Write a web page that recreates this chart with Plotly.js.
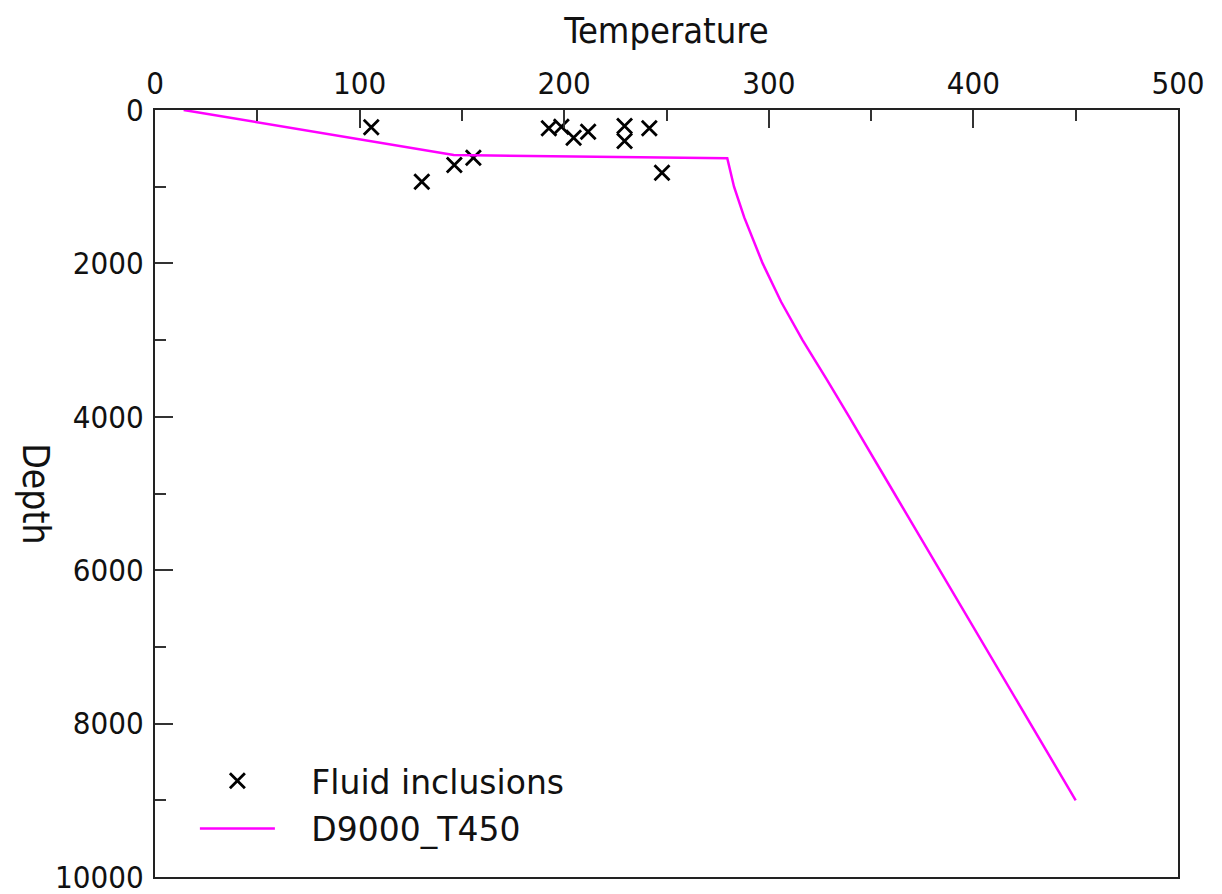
<!DOCTYPE html>
<html>
<head>
<meta charset="utf-8">
<script src="https://cdn.plot.ly/plotly-3.0.1.min.js"></script>
<style>html,body{margin:0;padding:0;background:#fff;}#chart{width:1222px;height:894px;}</style>
</head>
<body>
<div id="chart"></div>
<script>
// Fluid inclusion measurements (temperature, depth)
var fluidTemp  = [105.7, 130.4, 146.3, 155.6, 192.5, 198.6, 204.6, 211.7, 229.5, 229.5, 241.6, 247.8];
var fluidDepth = [226, 935, 717, 622, 239, 217, 361, 283, 209, 404, 239, 817];

// Geotherm model D9000_T450
var modelTemp  = [14, 146, 279.7, 283.0, 288.0, 292.5, 297.0, 306.0, 310.3, 316.5, 328.0, 339.3, 361.4, 383.6, 405.7, 427.9, 450];
var modelDepth = [0, 588, 630, 1000, 1400, 1700, 2000, 2500, 2700, 3000, 3500, 4000, 5000, 6000, 7000, 8000, 9000];

// Axis ticks
var xTicks = [0, 100, 200, 300, 400, 500];
var yTicks = [0, 2000, 4000, 6000, 8000, 10000];

var narrow = 'DejaVu Sans Condensed, DejaVu Sans, sans-serif';
var tickFont = {family: narrow, size: 31, color: '#111'};

var traces = [
  {
    x: fluidTemp, y: fluidDepth, type: 'scatter', mode: 'markers',
    name: '\u00a0\u00a0\u00a0Fluid inclusions', legendgroup: 'a',
    marker: {symbol: 'x-thin', size: 15, color: '#000', line: {width: 2.8, color: '#000'}}
  },
  {
    x: modelTemp, y: modelDepth, type: 'scatter', mode: 'lines',
    name: '\u00a0\u00a0\u00a0D9000_T450', legendgroup: 'b',
    line: {color: '#ff00ff', width: 2.5}
  }
];

var layout = {
  width: 1222, height: 894,
  margin: {l: 155, r: 44, t: 110, b: 17},
  paper_bgcolor: '#fff', plot_bgcolor: '#fff',
  showlegend: true,
  legend: {
    x: 0.039, y: 0.162, xanchor: 'left', yanchor: 'top',
    bgcolor: 'rgba(0,0,0,0)',
    font: {family: 'DejaVu Sans, sans-serif', size: 33, color: '#111'},
    traceorder: 'grouped', tracegroupgap: 2, itemwidth: 75
  },
  xaxis: {
    side: 'top', range: [0, 500], tickvals: xTicks, ticktext: xTicks.map(String),
    ticks: 'inside', ticklen: 18, tickwidth: 2, tickcolor: '#333',
    minor: {dtick: 50, ticks: 'inside', ticklen: 11, tickwidth: 2, tickcolor: '#333'},
    showline: true, linewidth: 2, linecolor: '#222', mirror: true,
    showgrid: false, zeroline: false,
    tickfont: tickFont, ticklabelstandoff: 2, ticklabeloverflow: 'allow',
    title: {text: 'Temperature', font: {family: 'DejaVu Sans Condensed, DejaVu Sans, sans-serif', size: 36, color: '#111'}, standoff: 10}
  },
  yaxis: {
    range: [10000, 0], tickvals: yTicks, ticktext: yTicks.map(String),
    ticks: 'inside', ticklen: 18, tickwidth: 2, tickcolor: '#333',
    minor: {dtick: 1000, ticks: 'inside', ticklen: 11, tickwidth: 2, tickcolor: '#333'},
    showline: true, linewidth: 2, linecolor: '#222', mirror: true,
    showgrid: false, zeroline: false,
    tickfont: tickFont, ticklabelstandoff: 3, ticklabeloverflow: 'allow'
  },
  annotations: [{
    text: 'Depth', textangle: 90, showarrow: false,
    xref: 'paper', yref: 'paper', x: -0.117, y: 0.5, xanchor: 'center', yanchor: 'middle',
    font: {family: 'DejaVu Sans Condensed, DejaVu Sans, sans-serif', size: 37, color: '#111'}
  }]
};

Plotly.newPlot('chart', traces, layout, {displayModeBar: false, staticPlot: true});
</script>
</body>
</html>
